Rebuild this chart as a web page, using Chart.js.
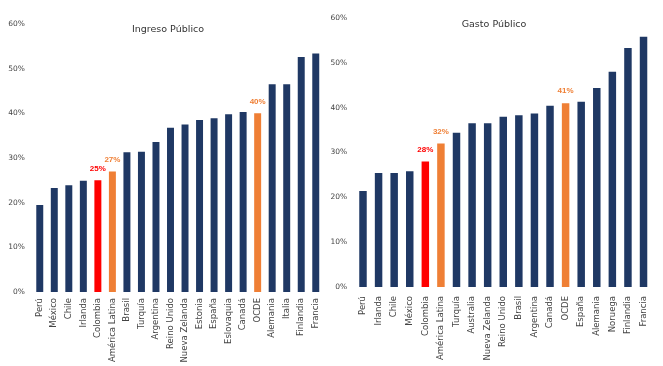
<!doctype html>
<html lang="es">
    <head>
        <meta charset="UTF-8" />
        <title>Ingreso y Gasto Público</title>
        <script src="https://cdn.jsdelivr.net/npm/chart.js"></script>
        <style>
            body { margin: 0; background: #fff; width: 663px; height: 366px; position: relative; overflow: hidden; }
            canvas { position: absolute; top: 0; }
        </style>
    </head>
    <body>
        <canvas id="ingresoChart" width="332" height="366" style="left: 0px"></canvas>
        <canvas id="gastoChart" width="333" height="366" style="left: 330px"></canvas>
        <script>
            // Ingreso público (% del PIB)
            var ingresoPaises = ["Perú", "México", "Chile", "Irlanda", "Colombia", "América Latina", "Brasil", "Turquía", "Argentina", "Reino Unido", "Nueva Zelanda", "Estonia", "España", "Eslovaquia", "Canadá", "OCDE", "Alemania", "Italia", "Finlandia", "Francia"];
            var ingresoValores = [19.5, 23.3, 23.9, 24.9, 25, 27, 31.3, 31.4, 33.6, 36.8, 37.5, 38.5, 38.9, 39.8, 40.3, 40, 46.5, 46.5, 52.6, 53.4];

            // Gasto público (% del PIB)
            var gastoPaises = ["Perú", "Irlanda", "Chile", "México", "Colombia", "América Latina", "Turquía", "Australia", "Nueva Zelanda", "Reino Unido", "Brasil", "Argentina", "Canadá", "OCDE", "España", "Alemania", "Noruega", "Finlandia", "Francia"];
            var gastoValores = [21.4, 25.4, 25.4, 25.8, 28, 32, 34.4, 36.5, 36.5, 38, 38.3, 38.7, 40.4, 41, 41.3, 44.4, 48, 53.3, 55.8];

            var ejeTicks = [0, 10, 20, 30, 40, 50, 60];
            var etiquetados = ["Colombia", "América Latina", "OCDE"];

            var AZUL = "#1f3864";
            var ROJO = "#ff0000";
            var NARANJA = "#ef7f35";

            function colorDe(pais) {
                if (pais === "Colombia") return ROJO;
                if (pais === "América Latina" || pais === "OCDE") return NARANJA;
                return AZUL;
            }

            // title and value labels drawn over the plot area
            var textosPlugin = {
                id: "textos",
                afterDatasetsDraw: function (chart, args, opts) {
                    var ctx = chart.ctx;
                    ctx.save();
                    ctx.textAlign = "center";
                    ctx.textBaseline = "middle";
                    ctx.fillStyle = "#333";
                    ctx.font = "9.5px 'DejaVu Sans'";
                    ctx.fillText(opts.titulo, opts.tituloX, opts.tituloY);

                    var meta = chart.getDatasetMeta(0);
                    var labels = chart.data.labels;
                    var valores = chart.data.datasets[0].data;
                    ctx.font = "bold 8px 'Liberation Sans Narrow', 'Liberation Sans'";
                    labels.forEach(function (pais, i) {
                        if (etiquetados.indexOf(pais) < 0) return;
                        var bar = meta.data[i];
                        ctx.fillStyle = colorDe(pais);
                        ctx.fillText(Math.round(valores[i]) + "%", bar.x, bar.y - 12);
                    });
                    ctx.restore();
                }
            };

            function crearGrafico(id, paises, valores, cfg) {
                var ctx = document.getElementById(id).getContext("2d");
                return new Chart(ctx, {
                    type: "bar",
                    data: {
                        labels: paises,
                        datasets: [
                            {
                                data: valores,
                                backgroundColor: paises.map(colorDe),
                                barPercentage: 0.48,
                                categoryPercentage: 1
                            }
                        ]
                    },
                    options: {
                        responsive: false,
                        animation: false,
                        devicePixelRatio: 1,
                        layout: { padding: { top: cfg.top, right: cfg.right, left: 0, bottom: 0 } },
                        plugins: {
                            legend: { display: false },
                            tooltip: { enabled: false },
                            textos: { titulo: cfg.titulo, tituloX: cfg.tituloX, tituloY: cfg.tituloY }
                        },
                        scales: {
                            x: {
                                grid: { display: false, drawTicks: false },
                                border: { display: false },
                                afterFit: function (scale) { scale.height = cfg.xAlto; },
                                ticks: {
                                    minRotation: 90,
                                    maxRotation: 90,
                                    autoSkip: false,
                                    padding: cfg.xPad,
                                    color: "#444",
                                    font: { family: "'DejaVu Sans'", size: 8.5 }
                                }
                            },
                            y: {
                                min: 0,
                                max: 60,
                                grid: { display: false, drawTicks: false },
                                border: { display: false },
                                afterFit: function (scale) { scale.width = cfg.yAncho; },
                                afterBuildTicks: function (scale) {
                                    scale.ticks = ejeTicks.map(function (v) { return { value: v }; });
                                },
                                ticks: {
                                    padding: cfg.yPad,
                                    color: "#444",
                                    font: { family: "'DejaVu Sans'", size: 7.5 },
                                    callback: function (v) { return v + "%"; }
                                }
                            }
                        }
                    },
                    plugins: [textosPlugin]
                });
            }

            crearGrafico("ingresoChart", ingresoPaises, ingresoValores, {
                titulo: "Ingreso Público", tituloX: 168, tituloY: 30,
                top: 24, right: 1.5, xAlto: 74, yAncho: 32.5, xPad: 6, yPad: 7.5
            });
            crearGrafico("gastoChart", gastoPaises, gastoValores, {
                titulo: "Gasto Público", tituloX: 164, tituloY: 25,
                top: 18, right: 10.2, xAlto: 79, yAncho: 25.2, xPad: 9, yPad: 8
            });
        </script>
    </body>
</html>
